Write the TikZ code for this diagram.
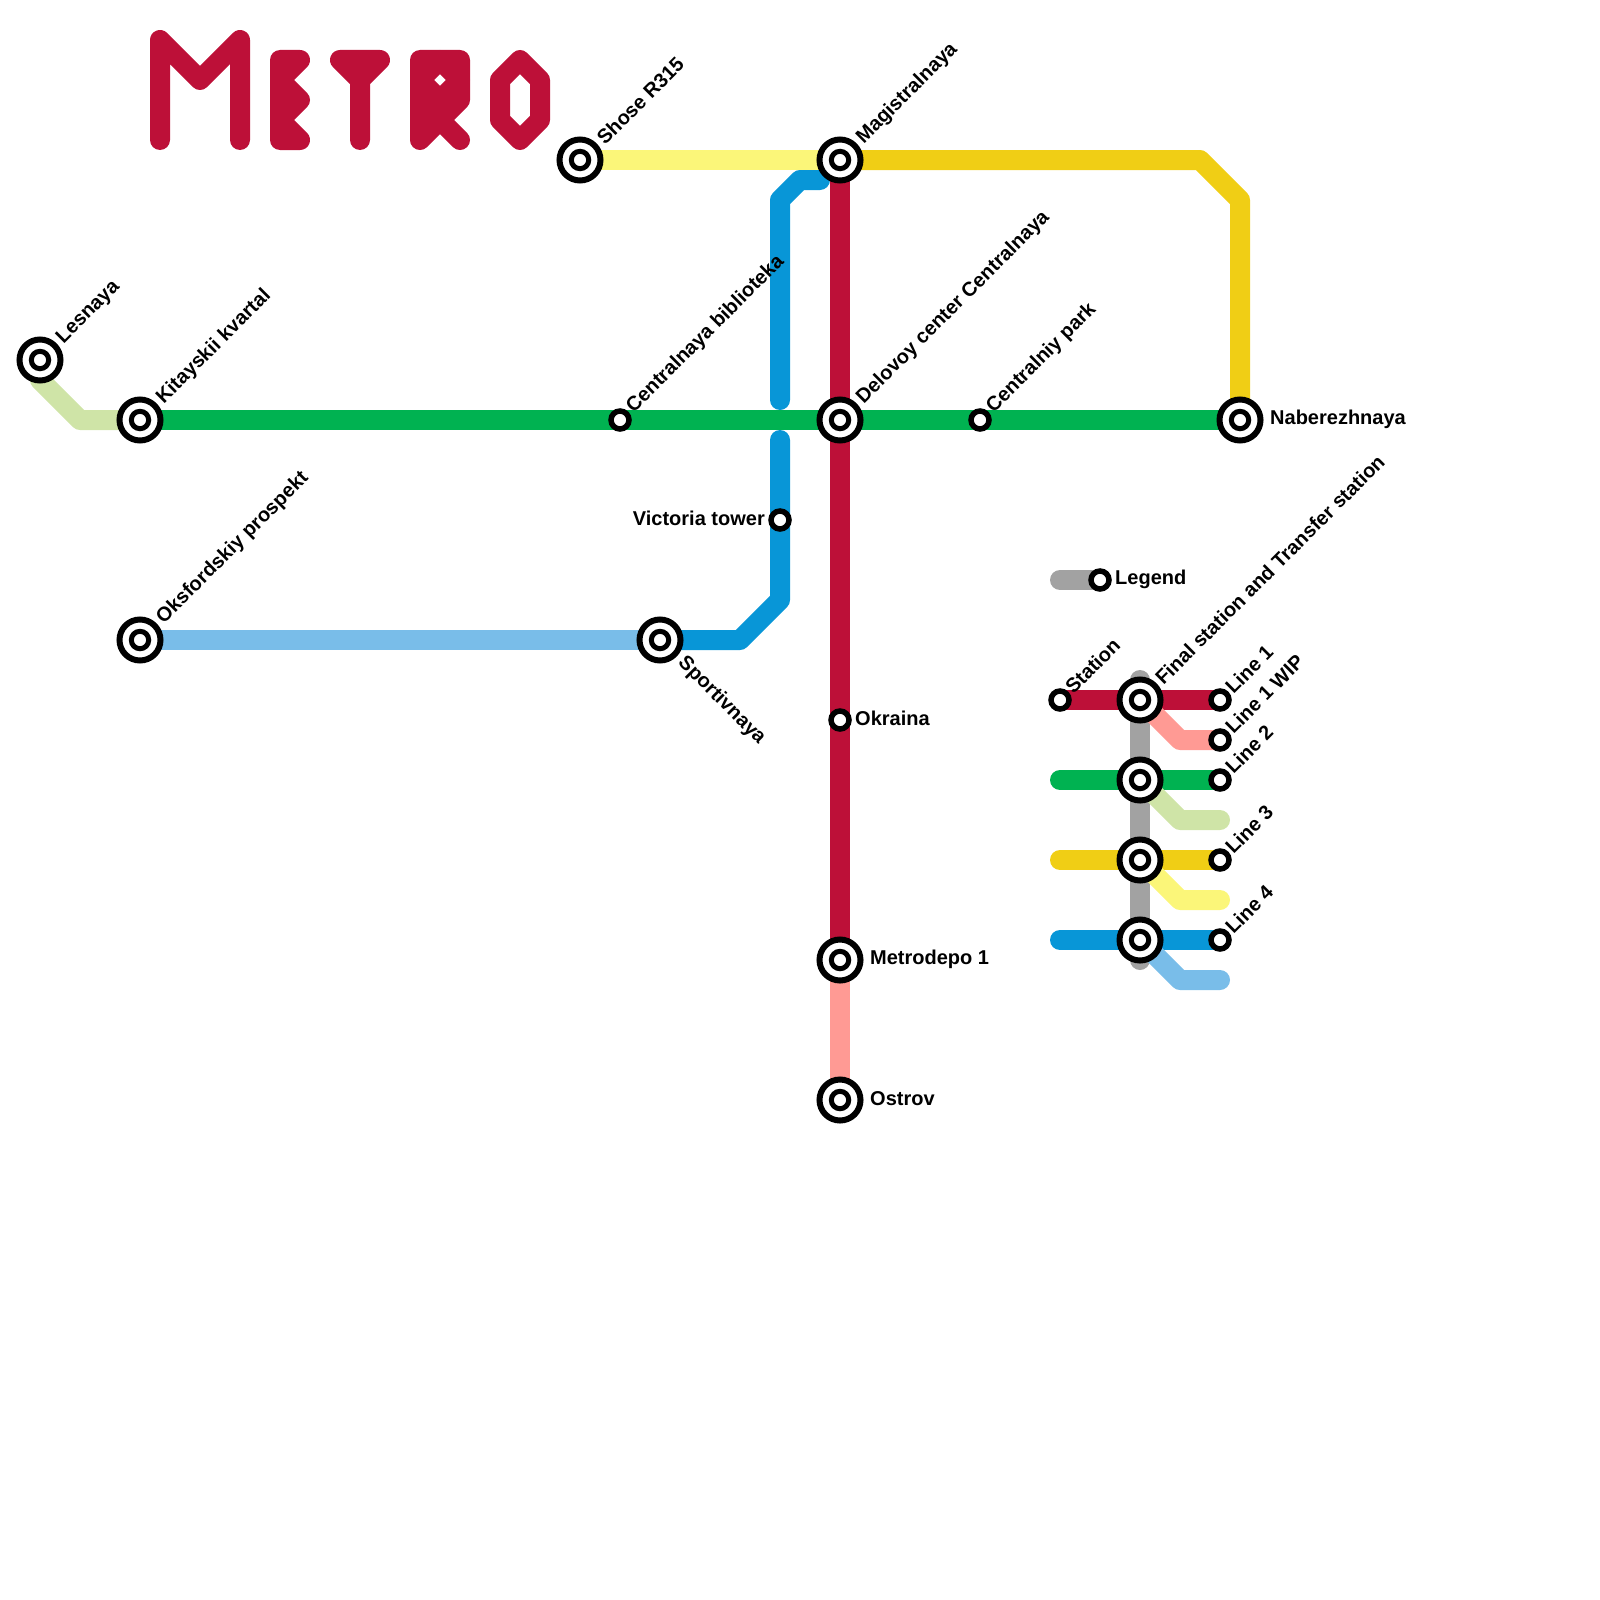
\documentclass[tikz,border=0pt]{standalone}
\usepackage{fontspec}
\setmainfont{Liberation Sans}
\definecolor{lred}{HTML}{BD1038}
\definecolor{lgreen}{HTML}{00B251}
\definecolor{lyellow}{HTML}{F0CE15}
\definecolor{lblue}{HTML}{0896D7}
\definecolor{lsky}{HTML}{79BDE9}
\definecolor{lpale}{HTML}{CFE4A7}
\definecolor{llemon}{HTML}{FBF679}
\definecolor{lpink}{HTML}{FF9A94}
\definecolor{lgray}{HTML}{A2A2A2}
\pgfdeclarelayer{lines}
\pgfsetlayers{lines,main}
\tikzset{
  x=1pt,y=-1pt,
  metroline/.style={line width=20pt,line cap=round,line join=round},
  bigst/.style={circle,draw=black,fill=white,line width=6pt,minimum size=41pt,inner sep=0pt,outer sep=0pt,
    path picture={\draw[black,line width=5pt] (path picture bounding box.center) circle (8.7pt);}},
  smallst/.style={circle,draw=black,fill=white,line width=5.5pt,minimum size=18pt,inner sep=0pt,outer sep=0pt},
  lab/.style={font=\bfseries\fontsize{20pt}{22pt}\selectfont,inner sep=0pt,anchor=west},
  diag/.style={lab,rotate=-45},
}
\begin{document}
\begin{tikzpicture}
\useasboundingbox (0,0) rectangle (1600,1600);
% stations
\node[bigst] (lesnaya) at (40,360) {};
\node[bigst] (kitay) at (140,420) {};
\node[smallst] (biblio) at (620,420) {};
\node[bigst] (delovoy) at (840,420) {};
\node[smallst] (park) at (980,420) {};
\node[bigst] (naber) at (1240,420) {};
\node[bigst] (shose) at (580,160) {};
\node[bigst] (magis) at (840,160) {};
\node[smallst] (victoria) at (780,520) {};
\node[bigst] (oksford) at (140,640) {};
\node[bigst] (sport) at (660,640) {};
\node[smallst] (okraina) at (840,720) {};
\node[bigst] (depo) at (840,960) {};
\node[bigst] (ostrov) at (840,1100) {};
\node[smallst] (legend) at (1100,580) {};
\node[smallst] (station) at (1060,700) {};
\node[bigst] (fin1) at (1140,700) {};
\node[bigst] (fin2) at (1140,780) {};
\node[bigst] (fin3) at (1140,860) {};
\node[bigst] (fin4) at (1140,940) {};
\node[smallst] (leg1) at (1220,700) {};
\node[smallst] (leg1w) at (1220,740) {};
\node[smallst] (leg2) at (1220,780) {};
\node[smallst] (leg3) at (1220,860) {};
\node[smallst] (leg4) at (1220,940) {};
% free ends
\coordinate (blueA) at (820,180);
\coordinate (blueB) at (780,400);
\coordinate (blueC) at (780,440);
\coordinate (legA) at (1060,580);
\coordinate (grayT) at (1140,680);
\coordinate (grayB) at (1140,960);
\coordinate (g2) at (1060,780);
\coordinate (y3) at (1060,860);
\coordinate (b4) at (1060,940);
\coordinate (p2) at (1220,820);
\coordinate (p3) at (1220,900);
\coordinate (p4) at (1220,980);
\begin{pgfonlayer}{lines}
% title
\draw[metroline,lred] (160,140)--(160,40)--(200,80)--(240,40)--(240,140);
\draw[metroline,lred] (300,60)--(280,60)--(280,140)--(300,140)--(280,120)--(300,100)--(280,80)--cycle;
\draw[metroline,lred] (360,140)--(360,80)--(340,60)--(380,60)--(360,80);
\draw[metroline,lred] (420,140)--(420,60)--(460,60)--(460,100)--(420,140);
\draw[metroline,lred] (440,120)--(460,140);
\draw[metroline,lred] (420,100)--(440,120);
\draw[metroline,lred] (420,80)--(440,60)--(460,80)--(440,100)--cycle;
\draw[metroline,lred] (520,60)--(540,80)--(540,120)--(520,140)--(500,120)--(500,80)--cycle;
% network
\draw[metroline,llemon] (shose.center)--(magis.center);
\draw[metroline,lyellow] (magis.center)--(1200,160)--(1240,200)--(naber.center);
\draw[metroline,lpale] (lesnaya.center)--(40,380)--(80,420)--(kitay.center);
\draw[metroline,lred] (magis.center)--(delovoy.center)--(okraina.center)--(depo.center);
\draw[metroline,lpink] (depo.center)--(ostrov.center);
\draw[metroline,lblue] (blueA)--(800,180)--(780,200)--(blueB);
\draw[metroline,lblue] (blueC)--(victoria.center)--(780,600)--(740,640)--(sport.center);
\draw[metroline,lgreen] (kitay.center)--(biblio.center)--(delovoy.center)--(park.center)--(naber.center);
\draw[metroline,lsky] (oksford.center)--(sport.center);
% legend
\draw[metroline,lgray] (legA)--(legend.center);
\draw[metroline,lgray] (grayT)--(fin1.center)--(fin2.center)--(fin3.center)--(fin4.center)--(grayB);
\draw[metroline,lred] (station.center)--(fin1.center)--(leg1.center);
\draw[metroline,lpink] (fin1.center)--(1180,740)--(leg1w.center);
\draw[metroline,lgreen] (g2)--(fin2.center)--(leg2.center);
\draw[metroline,lpale] (fin2.center)--(1180,820)--(p2);
\draw[metroline,lyellow] (y3)--(fin3.center)--(leg3.center);
\draw[metroline,llemon] (fin3.center)--(1180,900)--(p3);
\draw[metroline,lblue] (b4)--(fin4.center)--(leg4.center);
\draw[metroline,lsky] (fin4.center)--(1180,980)--(p4);
\end{pgfonlayer}
% labels
\node[lab,rotate=45] (tLes) at (60,341) {Lesnaya};
\node[lab,rotate=45] (tKit) at (160,401) {Kitayskii kvartal};
\node[lab,rotate=45] (tBib) at (630,410) {Centralnaya biblioteka};
\node[lab,rotate=45] (tDel) at (860,401) {Delovoy center Centralnaya};
\node[lab,rotate=45] (tPar) at (990,410) {Centralniy park};
\node[lab] (tNab) at (1270,419) {Naberezhnaya};
\node[lab,rotate=45] (tSho) at (600,141) {Shose R315};
\node[lab,rotate=45] (tMag) at (860,141) {Magistralnaya};
\node[lab,anchor=east] (tVic) at (765,518) {Victoria tower};
\node[lab,rotate=45] (tOks) at (160,621) {Oksfordskiy prospekt};
\node[diag] (tSpo) at (681,660) {Sportivnaya};
\node[lab] (tOkr) at (855,718) {Okraina};
\node[lab] (tDep) at (870,959) {Metrodepo 1};
\node[lab] (tOst) at (870,1099) {Ostrov};
\node[lab] (tLeg) at (1115,579) {Legend};
\node[lab,rotate=45] (tSta) at (1068.5,690) {Station};
\node[lab,rotate=45] (tFin) at (1158.5,681) {Final station and Transfer station};
\node[lab,rotate=45] (tL1) at (1228.5,690) {Line 1};
\node[lab,rotate=45] (tL1w) at (1228.5,730) {Line 1 WIP};
\node[lab,rotate=45] (tL2) at (1228.5,770) {Line 2};
\node[lab,rotate=45] (tL3) at (1228.5,850) {Line 3};
\node[lab,rotate=45] (tL4) at (1228.5,930) {Line 4};
\end{tikzpicture}
\end{document}
